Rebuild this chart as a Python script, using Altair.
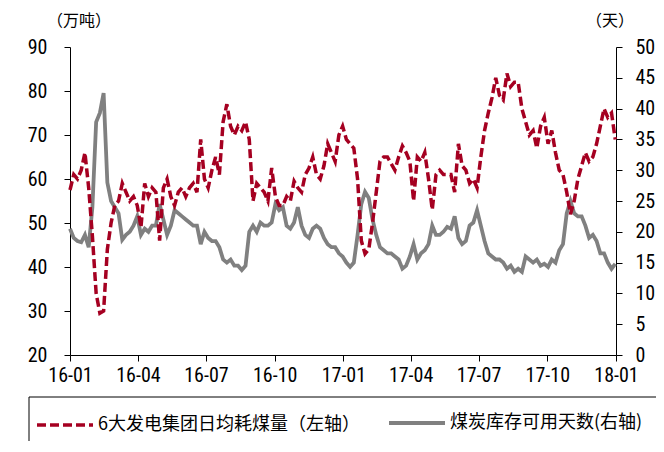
import altair as alt
import pandas as pd

# sampled every 5 days from 2016-01-01
start_date = "2016-01-01"
step_days = 5

consumption = [  # 6大发电集团日均耗煤量 (万吨, left axis)
    57.5, 61, 60, 62, 66, 58, 47, 34, 29.5, 30,
    44, 50, 54, 55, 59, 57, 55, 56, 54, 49,
    59, 56, 58, 57, 46, 58, 60, 56, 54, 57,
    58, 56, 58, 59, 57, 69, 60, 58, 62, 65,
    61, 73, 77, 72, 70, 72, 71, 73, 69, 55,
    59, 58,
    57, 55, 62.5, 56, 54, 54, 56, 55, 59.5, 58,
    57, 61, 62.5, 65, 61, 60, 63, 68, 66, 64,
    70, 72, 69, 68, 67, 60, 46, 43, 44, 50,
    57, 64, 65, 65, 63.5, 62, 65, 67.5, 66, 64,
    55, 65, 64, 66, 60, 53, 61, 62, 61, 61,
    61, 57, 68, 63, 62, 59, 60, 58, 65, 71,
    75, 78.5, 83, 79, 78, 84, 81, 82, 82, 76,
    73, 70, 71, 67, 72, 74, 68, 71, 66, 62,
    61, 57, 52, 55, 60, 63, 66, 64, 65, 68,
    72, 76, 74, 75, 69,
]

days_available = [  # 煤炭库存可用天数 (天, right axis)
    20.5, 19, 18.5, 18.3, 19.5, 17.5, 24, 37.8, 39.3, 42.5,
    28, 25, 24, 23, 18.7, 19.5, 20, 21, 22.5, 19.5,
    20.5, 20, 21, 21, 24.5, 22, 19.5, 21, 23.5, 23,
    22.5, 22, 21.5, 21, 21, 18, 20, 19, 18.5, 18.5,
    17.5, 15.5, 15, 15.5, 14.5, 14.5, 13.8, 14.5, 20, 21,
    20, 21.5,
    21, 21, 21.5, 24.5, 23.5, 24, 21, 20.5, 21.5, 24,
    21, 19.5, 19, 20.5, 21, 20.5, 19, 18, 17.5, 17.5,
    16.5, 16, 15, 14.3, 15, 19.5, 24.5, 26.5, 25.5, 22,
    19.5, 17.5, 17, 16.5, 16.5, 16, 15.5, 14, 14.5, 16,
    18, 15.5, 16.5, 17, 18, 21, 19.5, 19.5, 20, 20.8,
    20.5, 22.5, 19, 18, 18.5, 21, 21.5, 23.5, 21, 18.5,
    16.5, 16, 15.5, 15.5, 15, 14, 14.5, 13.5, 14, 13.5,
    16, 15.5, 15, 15.5, 14.5, 14.8, 14.3, 15.5, 15, 17,
    18, 23, 25, 23, 22.5, 22.5, 21, 19, 19.5, 18.5,
    16.5, 16.5, 15, 14, 14.8,
]

tick_labels = ["16-01", "16-04", "16-07", "16-10", "17-01", "17-04", "17-07", "17-10", "18-01"]
left_ticks = [20, 30, 40, 50, 60, 70, 80, 90]
right_ticks = [0, 5, 10, 15, 20, 25, 30, 35, 40, 45, 50]
left_unit = "（万吨）"
right_unit = "（天）"
legend_red = "6大发电集团日均耗煤量（左轴）"
legend_gray = "煤炭库存可用天数(右轴)"

RED = "#A50021"
GRAY = "#808080"
NUM_FONT = "Liberation Sans Narrow, Arial Narrow, Roboto Condensed, Liberation Sans"
CJK_FONT = "Noto Sans CJK SC"

dates = pd.date_range(start_date, periods=len(consumption), freq=f"{step_days}D")
df = pd.DataFrame({"date": dates, "consumption": consumption, "days": days_available})

tick_dates = [alt.DateTime(year=2000 + int(t[:2]), month=int(t[3:]), date=1) for t in tick_labels]

x_enc = alt.X(
    "date:T",
    scale=alt.Scale(domain=[tick_dates[0], tick_dates[-1]]),
    axis=alt.Axis(
        values=tick_dates, format="%y-%m", title=None, grid=False,
        tickSize=6, tickColor="black", domainColor="black",
        labelFont=NUM_FONT, labelFontSize=20, labelColor="black",
        labelPadding=4, labelFlush=False, labelOverlap=False,
    ),
)

gray_line = alt.Chart(df).mark_line(color=GRAY, strokeWidth=3.8).encode(
    x=x_enc,
    y=alt.Y(
        "days:Q",
        scale=alt.Scale(domain=[0, 50], nice=False, zero=False),
        axis=alt.Axis(
            orient="right", values=right_ticks, title=None, grid=False,
            tickSize=6, tickColor="black", domainColor="black",
            labelFont=NUM_FONT, labelFontSize=20, labelColor="black",
            labelPadding=13,
        ),
    ),
)

red_line = alt.Chart(df).mark_line(color=RED, strokeWidth=3.5, strokeDash=[9, 4]).encode(
    x=x_enc,
    y=alt.Y(
        "consumption:Q",
        scale=alt.Scale(domain=[20, 90], nice=False, zero=False),
        axis=alt.Axis(
            orient="left", values=left_ticks, title=None, grid=False,
            tickSize=6, tickColor="black", domainColor="black",
            labelFont=NUM_FONT, labelFontSize=20, labelColor="black",
            labelPadding=17,
        ),
    ),
)

one = pd.DataFrame({"k": [0]})

units = alt.layer(
    alt.Chart(one).mark_text(font=CJK_FONT, fontSize=16, color="black", align="center", baseline="middle")
    .encode(x=alt.value(9), y=alt.value(-26), text=alt.value(left_unit)),
    alt.Chart(one).mark_text(font=CJK_FONT, fontSize=16, color="black", align="center", baseline="middle")
    .encode(x=alt.value(540), y=alt.value(-26), text=alt.value(right_unit)),
)

legend = alt.layer(
    alt.Chart(one).mark_rect(fill="white", stroke="black", strokeWidth=1)
    .encode(x=alt.value(-41), x2=alt.value(589), y=alt.value(350), y2=alt.value(420)),
    alt.Chart(one).mark_rule(color=RED, strokeWidth=3.5, strokeDash=[9, 4])
    .encode(x=alt.value(-33), x2=alt.value(23), y=alt.value(378)),
    alt.Chart(one).mark_text(font=CJK_FONT, fontSize=18, color="black", align="left", baseline="middle")
    .encode(x=alt.value(28), y=alt.value(378), text=alt.value(legend_red)),
    alt.Chart(one).mark_rule(color=GRAY, strokeWidth=3.8)
    .encode(x=alt.value(319), x2=alt.value(375), y=alt.value(376)),
    alt.Chart(one).mark_text(font=CJK_FONT, fontSize=18, color="black", align="left", baseline="middle")
    .encode(x=alt.value(380), y=alt.value(376), text=alt.value(legend_gray)),
)

chart = (
    alt.layer(gray_line, red_line, units, legend)
    .resolve_scale(y="independent")
    .properties(
        width=546, height=308,
        autosize=alt.AutoSizeParams(type="none"),
        padding={"left": 62, "top": 39, "right": 40, "bottom": 86},
        background="white",
    )
    .configure_view(stroke=None)
)

chart.save("out.html", embed_options={"renderer": "svg", "actions": False})
